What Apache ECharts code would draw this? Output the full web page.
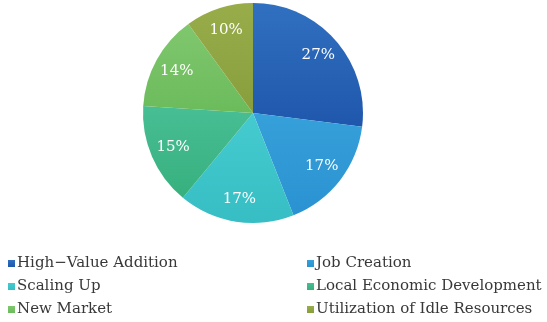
<!DOCTYPE html>
<html>
<head>
<meta charset="utf-8">
<script src="https://cdn.jsdelivr.net/npm/echarts@6/dist/echarts.min.js"></script>
<style>
  html, body { margin: 0; padding: 0; background: #fff; }
  #chart { width: 547px; height: 322px; }
</style>
</head>
<body>
<div id="chart"></div>
<script>
// Share of each effect, in percent
const categories = [
  'High\u2212Value Addition',
  'Job Creation',
  'Scaling Up',
  'Local Economic Development',
  'New Market',
  'Utilization of Idle Resources'
];
const values = [27, 17, 17, 15, 14, 10];

// Slice colours: [top, bottom] of a soft vertical gradient
const colorPairs = [
  ['#3170c0', '#1f57ac'],
  ['#36a0da', '#2a92d1'],
  ['#45cbcf', '#36bec4'],
  ['#48be95', '#37b07d'],
  ['#80c76e', '#6bbb5b'],
  ['#98ac4a', '#889e3c']
];

const fill = (pair) => new echarts.graphic.LinearGradient(0, 0, 0, 1, [
  { offset: 0, color: pair[0] },
  { offset: 1, color: pair[1] }
]);

const pieData = categories.map((name, i) => ({
  name,
  value: values[i],
  itemStyle: { color: fill(colorPairs[i]) }
}));

// Transparent companion ring, only used to place the percentage labels
const labelData = categories.map((name, i) => ({
  name,
  value: values[i],
  itemStyle: { color: 'rgba(0,0,0,0)' }
}));

const font = '"DejaVu Serif", "Liberation Serif", serif';

const legendStyle = {
  orient: 'vertical',
  top: 251,
  itemWidth: 7,
  itemHeight: 7,
  itemGap: 8,
  icon: 'rect',
  textStyle: { fontFamily: font, fontSize: 15, color: '#383838', padding: [0, 0, 0, -3] }
};

const chart = echarts.init(document.getElementById('chart'), null, { renderer: 'canvas' });
chart.setOption({
  animation: false,
  color: colorPairs.map(p => p[1]),
  legend: [
    Object.assign({ data: [categories[0], categories[2], categories[4]], left: 3 }, legendStyle),
    Object.assign({ data: [categories[1], categories[3], categories[5]], left: 302 }, legendStyle)
  ],
  series: [
    {
      type: 'pie',
      center: [253, 113],
      radius: [0, 110],
      startAngle: 90,
      clockwise: true,
      silent: true,
      label: { show: false },
      labelLine: { show: false },
      data: pieData
    },
    {
      type: 'pie',
      center: [253, 113],
      radius: [0, 168],
      startAngle: 90,
      clockwise: true,
      silent: true,
      label: {
        show: true,
        position: 'inside',
        formatter: '{c}%',
        fontFamily: font,
        fontSize: 15,
        color: '#ffffff'
      },
      labelLine: { show: false },
      data: labelData
    }
  ]
});
</script>
</body>
</html>
